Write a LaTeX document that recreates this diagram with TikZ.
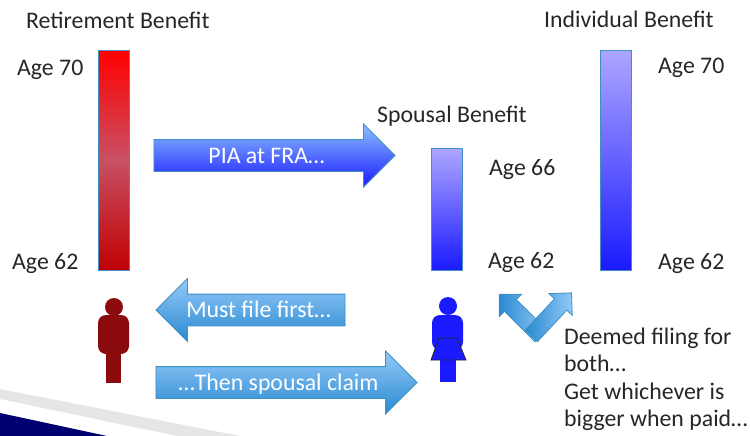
\documentclass[tikz,border=0pt]{standalone}
\usepackage{fontspec}
\setmainfont{Carlito}
\usetikzlibrary{shapes.arrows,shapes.geometric}
\definecolor{barred}{HTML}{FF0000}
\definecolor{barmid}{HTML}{C85064}
\definecolor{bardark}{HTML}{C00000}
\definecolor{barlite}{HTML}{ADA6FF}
\definecolor{barblue}{HTML}{1A1AFF}
\definecolor{arrowlite}{HTML}{93C9FA}
\definecolor{arrowdark}{HTML}{2A8AD0}
\definecolor{arrowline}{HTML}{3F8FC0}
\definecolor{pialite}{HTML}{8CC0FF}
\definecolor{manred}{HTML}{8B0A0E}
\definecolor{swoosh}{HTML}{E4E6E8}
\definecolor{navy}{HTML}{000070}
\definecolor{labeltext}{HTML}{262626}
\tikzset{
  label/.style={text=labeltext, font=\fontsize{23.8}{27.5}\selectfont, inner sep=0pt},
  agebar/.style={draw=arrowline, line width=0.8pt, minimum width=31pt, inner sep=0pt},
  bigarrow/.style={single arrow, draw=arrowline, line width=0.8pt, inner xsep=0pt, inner ysep=0pt,
    single arrow tip angle=90, single arrow head indent=0pt, single arrow head extend=15.5pt,
    text height=23pt, text depth=8pt, text=white, font=\fontsize{23.8}{27.5}\selectfont},
  vee/.style={single arrow, draw=arrowline, line width=0.8pt, inner sep=0pt, minimum height=59pt,
    single arrow tip angle=90, single arrow head indent=0pt, single arrow head extend=7.5pt,
    text height=8pt, text depth=8pt, left color=arrowdark, right color=arrowlite},
}
\begin{document}
\begin{tikzpicture}[x=1pt, y=-1pt]
  \useasboundingbox (0,0) rectangle (750,436);
  % Swoosh
  \fill[swoosh] (0,389) -- (240,436) -- (177,436) -- (0,399) -- cycle;
  \fill[navy] (0,413) -- (107,436) -- (0,436) -- cycle;
  % Bars
  \node [agebar, anchor=north, minimum height=220pt, top color=barred, bottom color=bardark, middle color=barmid] (retire-bar) at (113.5,50) {};
  \node [agebar, anchor=north, minimum height=122pt, top color=barlite, bottom color=barblue] (spouse-bar) at (446.5,148) {};
  \node [agebar, anchor=north, minimum height=220pt, top color=barlite, bottom color=barblue] (indiv-bar) at (616,50) {};
  % Labels
  \node [label, anchor=base west] (retire-head) at (26,29) {Retirement Benefit};
  \node [label, anchor=base west] (spouse-head) at (377,122) {Spousal Benefit};
  \node [label, anchor=base west] (indiv-head) at (544,28) {Individual Benefit};
  \foreach \n/\x/\y/\t in {a/17/76/70, b/12/269/62, c/489/175/66, d/488/268/62, e/658/74/70, f/658/269/62}
    \node [label, anchor=base west] (age-\n) at (\x,\y) {Age \t};
  \node [label, anchor=base west] (deemed-1) at (564,344) {Deemed filing for};
  \node [label, anchor=base west] (deemed-2) at (564,371) {both\dots};
  \node [label, anchor=base west] (deemed-3) at (564,399) {Get whichever is};
  \node [label, anchor=base west] (deemed-4) at (564,426) {bigger when paid\dots};
  % Arrows
  \node [bigarrow, minimum height=241pt, top color=pialite, bottom color=barblue] (pia) at (266.5,155.5) {PIA at FRA\dots};
  \node [bigarrow, minimum height=189pt, shape border rotate=180, top color=arrowlite, bottom color=arrowdark] (file) at (258.5,310) {Must file first\dots};
  \node [bigarrow, minimum height=261pt, top color=arrowlite, bottom color=arrowdark] (claim) at (278.5,382.5) {\dots Then spousal claim};
  \node [vee, rotate=135] (vee-left) at (523,318) {};
  \node [vee, rotate=47] (vee-right) at (548.5,317.5) {};
  % Man
  \fill[manred] (114,307) circle (9);
  \fill[manred, rounded corners=8pt] (98,315) rectangle (129,354);
  \fill[manred] (106,350) rectangle (121,383);
  % Woman
  \fill[barblue] (448,306) circle (9);
  \fill[barblue, rounded corners=8pt] (432,315) rectangle (463,350);
  \fill[barblue] (440,350) rectangle (456,382);
  \draw[fill=barblue, draw=labeltext, line width=0.8pt] (439,338) -- (457,338) -- (466,360) -- (431,360) -- cycle;
\end{tikzpicture}
\end{document}
